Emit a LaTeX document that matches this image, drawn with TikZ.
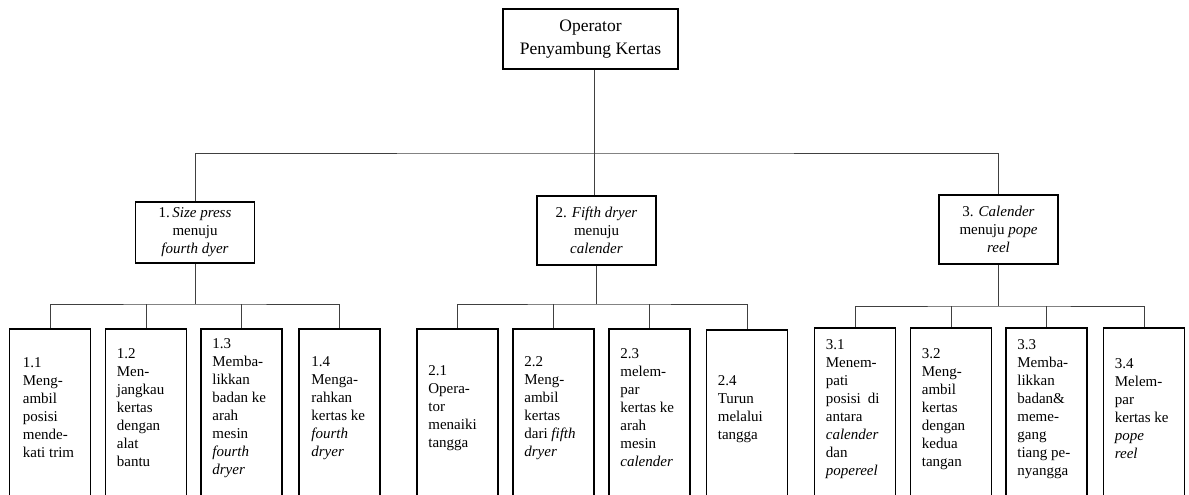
\documentclass[tikz,border=0pt]{standalone}
\usepackage{fontspec}
\setmainfont{Liberation Serif}
\begin{document}
\begin{tikzpicture}[x=1pt,y=-1pt,
  box/.style={draw=black, line width=1.7pt, inner sep=0pt, align=center},
  topbox/.style={box, minimum width=175pt, minimum height=60pt, font=\fontsize{17.5}{23}\selectfont},
  midbox/.style={box, minimum width=119pt, font=\fontsize{15}{18}\selectfont},
  leafbox/.style={draw=black, line width=1.7pt, minimum width=81pt, minimum height=190pt, anchor=north, inner sep=0pt},
  lt/.style={anchor=west, align=left, inner sep=0pt, font=\fontsize{15}{18}\selectfont},
  conn/.style={draw=black!75, line width=0.9pt}]
\useasboundingbox (0,0) rectangle (1189,495);
\clip (0,0) rectangle (1189,495);

% top
\node[topbox] (top) at (590.5,39) {Operator\\Penyambung Kertas};

% level 2
\node[midbox, minimum height=61pt] (b1) at (195,232.5) {1.\,\textit{Size press}\\menuju\\\textit{fourth dyer}};
\node[midbox, minimum height=69pt] (b2) at (596.5,230.5) {2. \textit{Fifth dryer}\\menuju\\\textit{calender}};
\node[midbox, minimum height=69pt] (b3) at (998.5,229.5) {3. \textit{Calender}\\menuju \textit{pope}\\\textit{reel}};

% leaves group 1
\node[leafbox] (l11) at (50,328) {};
\node[leafbox] (l12) at (146,328) {};
\node[leafbox] (l13) at (241.5,328) {};
\node[leafbox] (l14) at (339.5,328) {};
% leaves group 2
\node[leafbox] (l21) at (457.5,328) {};
\node[leafbox] (l22) at (553.5,328) {};
\node[leafbox] (l23) at (649.5,328) {};
\node[leafbox] (l24) at (747,329) {};
% leaves group 3
\node[leafbox] (l31) at (855,327) {};
\node[leafbox] (l32) at (951,327) {};
\node[leafbox] (l33) at (1046.5,327) {};
\node[leafbox] (l34) at (1144,327) {};

% leaf texts
\node[lt] (t11) at ([xshift=14pt,yshift=-80pt]l11.north west) {1.1\\Meng-\\ambil\\posisi\\mende-\\kati trim};
\node[lt] (t12) at ([xshift=12pt,yshift=-80pt]l12.north west) {1.2\\Men-\\jangkau\\kertas\\dengan\\alat\\bantu};
\node[lt] (t13) at ([xshift=12pt,yshift=-80pt]l13.north west) {1.3\\Memba-\\likkan\\badan ke\\arah\\mesin\\\textit{fourth}\\\textit{dryer}};
\node[lt] (t14) at ([xshift=13pt,yshift=-80pt]l14.north west) {1.4\\Menga-\\rahkan\\kertas ke\\\textit{fourth}\\\textit{dryer}};

\node[lt] (t21) at ([xshift=12pt,yshift=-80pt]l21.north west) {2.1\\Opera-\\tor\\menaiki\\tangga};
\node[lt] (t22) at ([xshift=12pt,yshift=-80pt]l22.north west) {2.2\\Meng-\\ambil\\kertas\\dari \textit{fifth}\\\textit{dryer}};
\node[lt] (t23) at ([xshift=12pt,yshift=-80pt]l23.north west) {2.3\\melem-\\par\\kertas ke\\arah\\mesin\\\textit{calender}};
\node[lt] (t24) at ([xshift=12pt,yshift=-80pt]l24.north west) {2.4\\Turun\\melalui\\tangga};

\node[lt] (t31) at ([xshift=12pt,yshift=-82pt]l31.north west) {3.1\\Menem-\\pati\\posisi\hspace{7pt}di\\antara\\\textit{calender}\\dan\\\textit{popereel}};
\node[lt] (t32) at ([xshift=12pt,yshift=-82pt]l32.north west) {3.2\\Meng-\\ambil\\kertas\\dengan\\kedua\\tangan};
\node[lt] (t33) at ([xshift=12pt,yshift=-82pt]l33.north west) {3.3\\Memba-\\likkan\\badan\&\\meme-\\gang\\tiang pe-\\nyangga};
\node[lt] (t34) at ([xshift=12pt,yshift=-82pt]l34.north west) {3.4\\Melem-\\par\\kertas ke\\\textit{pope}\\\textit{reel}};

% connectors top level
\coordinate (bus) at (594,153);
\draw[conn] (top.south -| bus) -- (bus);
\draw[conn] (b1.north) |- (bus) -| (b3.north);
\draw[conn] (bus) -- (bus |- b2.north);

% group 1
\coordinate (g1) at (195,304);
\draw[conn] (b1.south) -- (g1);
\draw[conn] (l11.north) |- (g1) -| (l14.north);
\draw[conn] (l12.north) -- (l12.north |- g1);
\draw[conn] (l13.north) -- (l13.north |- g1);

% group 2
\coordinate (g2) at (596.5,304);
\draw[conn] (b2.south) -- (g2);
\draw[conn] (l21.north) |- (g2) -| (l24.north);
\draw[conn] (l22.north) -- (l22.north |- g2);
\draw[conn] (l23.north) -- (l23.north |- g2);

% group 3
\coordinate (g3) at (998.5,306);
\draw[conn] (b3.south) -- (g3);
\draw[conn] (l31.north) |- (g3) -| (l34.north);
\draw[conn] (l32.north) -- (l32.north |- g3);
\draw[conn] (l33.north) -- (l33.north |- g3);
\end{tikzpicture}
\end{document}
